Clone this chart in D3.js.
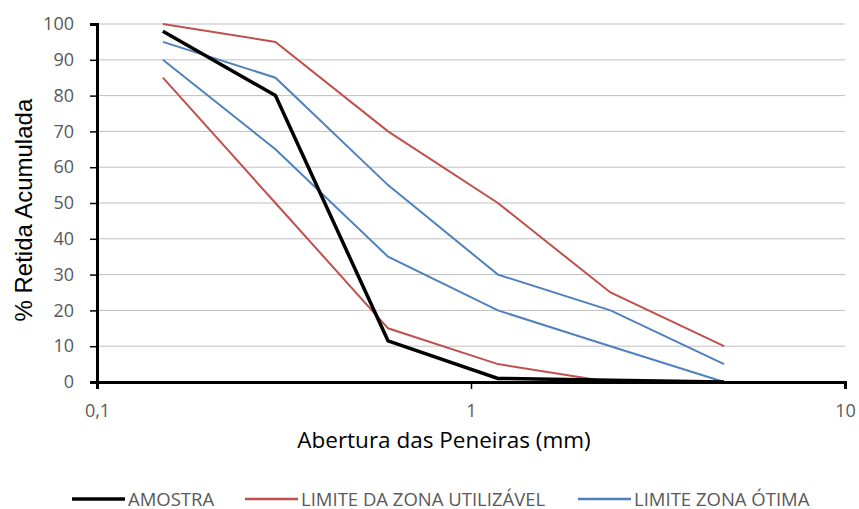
<!DOCTYPE html>
<html lang="pt">
<head>
  <meta charset="UTF-8">
  <title>Curva granulométrica</title>
  <style>
    body { margin: 0; background: #fff; }
    text { font-family: "Open Sans", "Noto Sans", sans-serif; }
  </style>
</head>
<body>
  <svg></svg>
  <script src="https://cdn.jsdelivr.net/npm/d3@7"></script>
  <script>
    // aberturas das peneiras (mm)
    const sieves = [0.15, 0.3, 0.6, 1.18, 2.36, 4.75]

    const amostra = [98, 80, 11.5, 1, 0.5, 0]
    const utilSup = [100, 95, 70, 50, 25, 10]
    const utilInf = [85, 50, 15, 5, 0, 0]
    const otimaSup = [95, 85, 55, 30, 20, 5]
    const otimaInf = [90, 65, 35, 20, 10, 0]

    const yTicks = [0, 10, 20, 30, 40, 50, 60, 70, 80, 90, 100]
    const xTicks = [0.1, 1, 10]
    const xTickLabels = ["0,1", "1", "10"]

    const legendNames = ["AMOSTRA", "LIMITE DA ZONA UTILIZÁVEL", "LIMITE ZONA ÓTIMA"]

    var width = 859
    var height = 509
    var svg = d3.select("svg").attr("width", width).attr("height", height)

    var x = d3.scaleLog().domain([0.1, 10]).range([97, 845])
    var y = d3.scaleLinear().domain([0, 100]).range([382, 24])

    // gridlines
    svg.append("g")
      .selectAll("line")
      .data(yTicks.filter(d => d > 0))
      .join("line")
      .attr("x1", x(0.1)).attr("x2", x(10))
      .attr("y1", d => y(d)).attr("y2", d => y(d))
      .attr("stroke", "#bfbfbf").attr("stroke-width", 1)

    var line = d3.line().x((d, i) => x(sieves[i])).y(d => y(d))

    const series = [
      {values: utilSup, color: "#c0504d", w: 2},
      {values: utilInf, color: "#c0504d", w: 2},
      {values: otimaSup, color: "#4f81bd", w: 2},
      {values: otimaInf, color: "#4f81bd", w: 2},
      {values: amostra, color: "#000000", w: 3.5}
    ]

    svg.append("g")
      .selectAll("path")
      .data(series)
      .join("path")
      .attr("d", d => line(d.values))
      .attr("fill", "none")
      .attr("stroke", d => d.color)
      .attr("stroke-width", d => d.w)

    // axes
    var yAxis = svg.append("g")
      .attr("transform", `translate(${x(0.1)},0)`)
      .call(d3.axisLeft(y).tickValues(yTicks).tickSize(7).tickPadding(16))
    yAxis.select(".domain").attr("stroke", "#000").attr("stroke-width", 3)
    yAxis.selectAll(".tick line").attr("stroke", "#000").attr("stroke-width", 1.5)
    yAxis.selectAll("text").attr("fill", "#595959").style("font-size", "18px")
      .style("font-family", "'Open Sans', sans-serif")

    var xAxis = svg.append("g")
      .attr("transform", `translate(0,${y(0)})`)
      .call(d3.axisBottom(x).tickValues(xTicks).tickFormat((d, i) => xTickLabels[i]).tickSize(7).tickPadding(15))
    xAxis.select(".domain").attr("stroke", "#000").attr("stroke-width", 3)
    xAxis.selectAll(".tick line").attr("stroke", "#000").attr("stroke-width", 1.5)
    xAxis.selectAll("text").attr("fill", "#595959").style("font-size", "18px")
      .style("font-family", "'Open Sans', sans-serif")

    // axis titles
    svg.append("text")
      .attr("transform", `translate(32,${y(48)}) rotate(-90)`)
      .attr("text-anchor", "middle")
      .style("font-size", "24px")
      .style("font-family", "'Liberation Sans', Arial, sans-serif")
      .attr("fill", "#000")
      .text("% Retida Acumulada")

    svg.append("text")
      .attr("x", 444).attr("y", 448)
      .attr("text-anchor", "middle")
      .style("font-size", "22.5px")
      .attr("fill", "#000")
      .text("Abertura das Peneiras (mm)")

    // legend
    const legendX = [72, 245, 578]
    const legendColors = ["#000000", "#c0504d", "#4f81bd"]
    const legendW = [3.5, 2.5, 2.5]
    var lg = svg.append("g").selectAll("g")
      .data(legendNames)
      .join("g")
      .attr("transform", (d, i) => `translate(${legendX[i]},499)`)
    lg.append("line")
      .attr("x1", 0).attr("x2", 53).attr("y1", 0).attr("y2", 0)
      .attr("stroke", (d, i) => legendColors[i])
      .attr("stroke-width", (d, i) => legendW[i])
    lg.append("text")
      .attr("x", 56).attr("y", 6.5)
      .style("font-size", "18.5px")
      .attr("fill", "#595959")
      .text(d => d)
  </script>
</body>
</html>
